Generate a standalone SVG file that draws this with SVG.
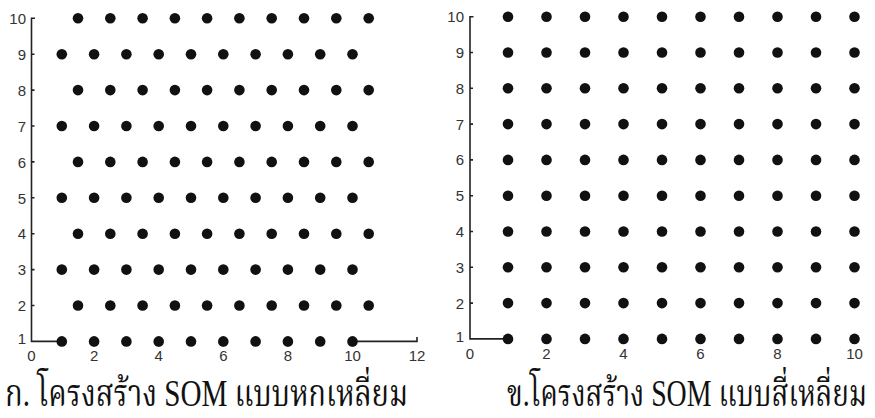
<svg xmlns="http://www.w3.org/2000/svg" xmlns:xlink="http://www.w3.org/1999/xlink" width="875" height="418" viewBox="0 0 875 418">
<style>
.bg{fill:#fff}
.dot{fill:#111}
.axis{fill:none;stroke:#222;stroke-width:1.6}
.num{font-family:"Liberation Sans",Arial,sans-serif;font-size:15px;fill:#333}
.ytl{text-anchor:end}
.xtl{text-anchor:middle}
.cap{font-family:"Liberation Serif","Noto Serif Thai","Noto Sans Thai",serif;font-size:37px;fill:#111}
</style>
<defs>
<g id="lodd" class="dot">
<circle cx="61.8" cy="0" r="5.3"/><circle cx="94.1" cy="0" r="5.3"/><circle cx="126.4" cy="0" r="5.3"/><circle cx="158.7" cy="0" r="5.3"/><circle cx="191" cy="0" r="5.3"/><circle cx="223.3" cy="0" r="5.3"/><circle cx="255.6" cy="0" r="5.3"/><circle cx="287.9" cy="0" r="5.3"/><circle cx="320.2" cy="0" r="5.3"/><circle cx="352.5" cy="0" r="5.3"/>
</g>
<g id="leven" class="dot">
<circle cx="78" cy="0" r="5.3"/><circle cx="110.3" cy="0" r="5.3"/><circle cx="142.6" cy="0" r="5.3"/><circle cx="174.9" cy="0" r="5.3"/><circle cx="207.1" cy="0" r="5.3"/><circle cx="239.4" cy="0" r="5.3"/><circle cx="271.7" cy="0" r="5.3"/><circle cx="304" cy="0" r="5.3"/><circle cx="336.3" cy="0" r="5.3"/><circle cx="368.7" cy="0" r="5.3"/>
</g>
<g id="rrow" class="dot">
<circle cx="508" cy="0" r="5.3"/><circle cx="546.5" cy="0" r="5.3"/><circle cx="585" cy="0" r="5.3"/><circle cx="623.5" cy="0" r="5.3"/><circle cx="662" cy="0" r="5.3"/><circle cx="700.5" cy="0" r="5.3"/><circle cx="739" cy="0" r="5.3"/><circle cx="777.5" cy="0" r="5.3"/><circle cx="816" cy="0" r="5.3"/><circle cx="854.5" cy="0" r="5.3"/>
</g>
</defs>
<rect class="bg" x="0" y="0" width="875" height="418"/>

<g id="hex-plot">
<g id="hex-axes">
<path class="axis" d="M35,18.3 H31.5 V341.4 H61.8 M352.5,341.4 H417 V337 M31.5,305.5 h3 M31.5,269.6 h3 M31.5,233.7 h3 M31.5,197.8 h3 M31.5,161.9 h3 M31.5,126 h3 M31.5,90.1 h3 M31.5,54.2 h3 M94.1,341.4 v5 M158.7,341.4 v5 M223.3,341.4 v5 M287.9,341.4 v5 M352.5,341.4 v5"/>
<g class="num ytl">
<text x="26" y="23.5">10</text><text x="26" y="59.5">9</text><text x="26" y="95.5">8</text><text x="26" y="131.5">7</text><text x="26" y="167.5">6</text><text x="26" y="203.5">5</text><text x="26" y="239">4</text><text x="26" y="275">3</text><text x="26" y="311">2</text><text x="26" y="344">1</text>
</g>
<g class="num xtl">
<text x="31.5" y="361">0</text><text x="94.1" y="361">2</text><text x="158.7" y="361">4</text><text x="223.3" y="361">6</text><text x="287.9" y="361">8</text><text x="352.5" y="361">10</text><text x="417" y="361">12</text>
</g>
</g>
<g id="hex-nodes">
<use href="#lodd" xlink:href="#lodd" y="341.4"/>
<use href="#leven" xlink:href="#leven" y="305.5"/>
<use href="#lodd" xlink:href="#lodd" y="269.6"/>
<use href="#leven" xlink:href="#leven" y="233.7"/>
<use href="#lodd" xlink:href="#lodd" y="197.8"/>
<use href="#leven" xlink:href="#leven" y="161.9"/>
<use href="#lodd" xlink:href="#lodd" y="126"/>
<use href="#leven" xlink:href="#leven" y="90.1"/>
<use href="#lodd" xlink:href="#lodd" y="54.2"/>
<use href="#leven" xlink:href="#leven" y="18.3"/>
</g>
<text id="hex-caption" class="cap" x="0" y="0" transform="translate(5,406) scale(0.8,1)" textLength="503.75" lengthAdjust="spacingAndGlyphs">ก. โครงสร้าง SOM แบบหกเหลี่ยม</text>
</g>

<g id="rect-plot">
<g id="rect-axes">
<path class="axis" d="M473.5,16.7 H470 V338.9 H508 M470,303.1 h3 M470,267.3 h3 M470,231.5 h3 M470,195.7 h3 M470,159.9 h3 M470,124.1 h3 M470,88.3 h3 M470,52.5 h3 M546.5,338.9 v5 M623.5,338.9 v5 M700.5,338.9 v5 M777.5,338.9 v5 M854.5,338.9 v5"/>
<g class="num ytl">
<text x="464" y="21.5">10</text><text x="464" y="57.5">9</text><text x="464" y="93.5">8</text><text x="464" y="129.5">7</text><text x="464" y="165">6</text><text x="464" y="201">5</text><text x="464" y="237">4</text><text x="464" y="273">3</text><text x="464" y="308.5">2</text><text x="464" y="342">1</text>
</g>
<g class="num xtl">
<text x="470" y="358.5">0</text><text x="546.5" y="358.5">2</text><text x="623.5" y="358.5">4</text><text x="700.5" y="358.5">6</text><text x="777.5" y="358.5">8</text><text x="854.5" y="358.5">10</text>
</g>
</g>
<g id="rect-nodes">
<use href="#rrow" xlink:href="#rrow" y="338.9"/>
<use href="#rrow" xlink:href="#rrow" y="303.1"/>
<use href="#rrow" xlink:href="#rrow" y="267.3"/>
<use href="#rrow" xlink:href="#rrow" y="231.5"/>
<use href="#rrow" xlink:href="#rrow" y="195.7"/>
<use href="#rrow" xlink:href="#rrow" y="159.9"/>
<use href="#rrow" xlink:href="#rrow" y="124.1"/>
<use href="#rrow" xlink:href="#rrow" y="88.3"/>
<use href="#rrow" xlink:href="#rrow" y="52.5"/>
<use href="#rrow" xlink:href="#rrow" y="16.7"/>
</g>
<text id="rect-caption" class="cap" x="0" y="0" transform="translate(507,406) scale(0.75,1)" textLength="480" lengthAdjust="spacingAndGlyphs">ข.โครงสร้าง SOM แบบสี่เหลี่ยม</text>
</g>
</svg>
